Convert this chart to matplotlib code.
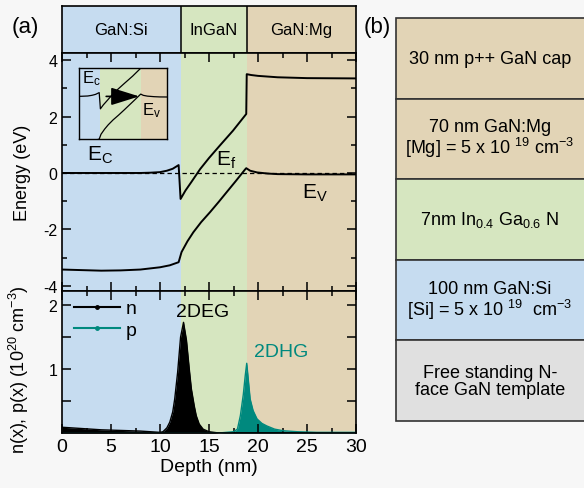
import matplotlib
matplotlib.use('Agg')
import matplotlib.pyplot as plt
from matplotlib.lines import Line2D
from matplotlib.patches import Rectangle

plt.rcParams['font.family'] = ['Liberation Sans', 'DejaVu Sans']
plt.rcParams['mathtext.default'] = 'regular'
plt.rcParams['axes.unicode_minus'] = False

# layer regions (nm)
layer_names = ['GaN:Si', 'InGaN', 'GaN:Mg']
layer_edges = [0, 12.1, 18.85, 30]
layer_colors = ['#c6dcf0', '#d6e6c0', '#e2d4b6']

# band edges
depth_ec = [0, 4, 8, 9, 10, 10.7, 11.3, 11.9, 12.1, 12.6, 13.2, 14.1, 15.0, 16.1,
            17.45, 18.8, 18.85, 19.3, 20, 22, 25, 30]
ec = [0.0, 0.0, 0.0, 0.01, 0.03, 0.08, 0.15, 0.28, -0.92, -0.62, -0.32, 0.14, 0.53,
      0.97, 1.5, 2.09, 3.5, 3.47, 3.44, 3.39, 3.36, 3.35]
depth_ev = [0, 2, 4, 6, 8, 10, 11, 11.9, 12.2, 12.8, 13.4, 14.2, 15.1, 16.0, 16.8,
            17.7, 18.67, 18.8, 19.2, 19.9, 21, 22, 25, 30]
ev = [-3.42, -3.44, -3.46, -3.45, -3.42, -3.34, -3.27, -3.16, -2.8, -2.42, -2.1, -1.74,
      -1.39, -1.02, -0.68, -0.3, 0.12, 0.17, 0.08, 0.02, -0.02, -0.04, -0.05, -0.05]

# carrier densities (1e20 cm^-3)
depth_n = [0, 2, 4, 6, 8, 9, 10, 10.3, 10.7, 11.0, 11.3, 11.5, 11.8, 12.1, 12.4, 12.7,
           13.0, 13.2, 13.5, 13.7, 14.0, 14.4, 15.0, 16, 30]
n = [0.09, 0.07, 0.05, 0.04, 0.03, 0.02, 0.01, 0.02, 0.08, 0.17, 0.33, 0.53, 0.95, 1.5,
     1.73, 1.45, 0.98, 0.69, 0.42, 0.27, 0.14, 0.06, 0.02, 0.0, 0.0]
depth_p = [0, 16, 17.5, 17.9, 18.2, 18.5, 18.7, 18.85, 19.0, 19.2, 19.5, 19.9, 20.4,
           20.9, 21.7, 22.6, 24, 26, 30]
p = [0, 0, 0.02, 0.06, 0.27, 0.6, 0.9, 1.09, 0.85, 0.53, 0.35, 0.22, 0.15, 0.11, 0.06,
     0.035, 0.02, 0.01, 0.01]

# panel (b) layer stack, top to bottom
stack_text = ['30 nm p++ GaN cap',
              '70 nm GaN:Mg\n[Mg] = 5 x 10 $^{19}$ cm$^{-3}$',
              '7nm In$_{0.4}$ Ga$_{0.6}$ N',
              '100 nm GaN:Si\n[Si] = 5 x 10 $^{19}$  cm$^{-3}$',
              'Free standing N-\nface GaN template']
stack_colors = ['#e2d4b6', '#e2d4b6', '#d6e6c0', '#c6dcf0', '#e0e0e0']

teal = '#00897e'
W, H = 584, 489
fig = plt.figure(figsize=(W / 100, H / 100), dpi=100, facecolor='#f7f7f7')

L, Wd = 62 / W, 294 / W
ax_top = fig.add_axes([L, (H - 54) / H, Wd, 47 / H])
ax_e = fig.add_axes([L, (H - 292) / H, Wd, 238 / H])
ax_n = fig.add_axes([L, (H - 434) / H, Wd, 142 / H])


def shade(ax):
    for i in range(3):
        ax.axvspan(layer_edges[i], layer_edges[i + 1], color=layer_colors[i], lw=0, zorder=0)
    ax.set_xlim(0, 30)


def style(ax):
    ax.tick_params(which='both', direction='in', top=True, right=True, width=1.1,
                   labelsize=11.5)
    ax.tick_params(which='major', length=6.5)
    ax.tick_params(which='minor', length=3.6)
    for s in ax.spines.values():
        s.set_linewidth(1.2)


# strip with layer names
shade(ax_top)
for i in range(3):
    ax_top.text((layer_edges[i] + layer_edges[i + 1]) / 2, 0.5, layer_names[i],
                ha='center', va='center', fontsize=12)
    if i > 0:
        ax_top.axvline(layer_edges[i], color='k', lw=1.1)
ax_top.set_ylim(0, 1)
ax_top.set_xticks([])
ax_top.set_yticks([])
for s in ax_top.spines.values():
    s.set_linewidth(1.2)

# energy bands
shade(ax_e)
ax_e.plot(depth_ec, ec, color='k', lw=1.4)
ax_e.plot(depth_ev, ev, color='k', lw=1.4)
ax_e.axhline(0, color='k', lw=0.9, ls=(0, (3.5, 2.5)))
ax_e.set_ylim(-4.18, 4.25)
ax_e.set_yticks([-4, -2, 0, 2, 4])
ax_e.set_yticks([-3, -1, 1, 3], minor=True)
ax_e.set_xticks(range(0, 31, 5))
ax_e.set_xticks([2.5 + 5 * i for i in range(6)], minor=True)
ax_e.tick_params(labelbottom=False)
style(ax_e)
ax_e.set_ylabel('Energy (eV)', fontsize=13)
ax_e.yaxis.set_label_coords(-0.105, 0.5)
ax_e.text(3.9, 0.67, 'E$_C$', fontsize=15, ha='center', va='center')
ax_e.text(16.7, 0.5, 'E$_f$', fontsize=15, ha='center', va='center')
ax_e.text(25.8, -0.7, 'E$_V$', fontsize=15, ha='center', va='center')

# inset
ax_in = fig.add_axes([79.3 / W, (H - 140) / H, 88 / W, 71 / H])
for i in range(3):
    ax_in.axvspan(layer_edges[i], layer_edges[i + 1], color=layer_colors[i], lw=0, zorder=0)
ax_in.plot(depth_ec, ec, color='k', lw=0.9)
ax_in.plot(depth_ev, ev, color='k', lw=0.9)
ax_in.set_xlim(8.6, 23.2)
ax_in.set_ylim(-3.15, 2.1)
ax_in.set_xticks([])
ax_in.set_yticks([])
for s in ax_in.spines.values():
    s.set_linewidth(1.0)
ax_in.annotate('', xy=(19.0, 0), xytext=(12.6, 0),
               arrowprops=dict(arrowstyle='-|>,head_length=0.8,head_width=0.25',
                               mutation_scale=22, color='k', lw=1.2))
ax_in.text(9.0, 1.35, 'E$_c$', fontsize=12, ha='left', va='center')
ax_in.text(20.6, -1.0, 'E$_v$', fontsize=12, ha='center', va='center')

# carrier densities
shade(ax_n)
ax_n.plot(depth_n, n, color='k', lw=1.0)
ax_n.fill_between(depth_n, n, color='k', lw=0)
ax_n.plot(depth_p, p, color=teal, lw=1.0)
ax_n.fill_between(depth_p, p, color=teal, lw=0)
ax_n.set_ylim(0, 2.22)
ax_n.set_yticks([0.5, 1, 1.5, 2])
ax_n.set_yticklabels(['', '1', '', '2'])
ax_n.set_xticks(range(0, 31, 5))
ax_n.set_xticks([2.5 + 5 * i for i in range(6)], minor=True)
style(ax_n)
ax_n.tick_params(axis='x', labelsize=14)
ax_n.set_xlabel('Depth (nm)', fontsize=14, labelpad=2)
ax_n.set_ylabel('n(x), p(x) (10$^{20}$ cm$^{-3}$)', fontsize=13)
ax_n.yaxis.set_label_coords(-0.105, 0.45)
handles = [Line2D([], [], color='k', lw=1.5, marker='o', ms=2.5),
           Line2D([], [], color=teal, lw=1.5, marker='o', ms=2.5)]
ax_n.legend(handles, ['n', 'p'], loc='upper left', frameon=False, fontsize=14,
            handlelength=2.4, handletextpad=0.3, labelspacing=0.2,
            borderaxespad=0.2, bbox_to_anchor=(0.0, 1.02))
ax_n.text(14.4, 1.9, '2DEG', fontsize=14, ha='center', va='center')
ax_n.text(22.4, 1.28, '2DHG', fontsize=14, ha='center', va='center', color=teal)

fig.text(12 / W, 1 - 28 / H, '(a)', fontsize=16, ha='left', va='center')
fig.text(364 / W, 1 - 28 / H, '(b)', fontsize=16, ha='left', va='center')

# panel (b) stack
ax_b = fig.add_axes([396 / W, (H - 422) / H, 210 / W, 403 / H])
ax_b.set_xlim(0, 1)
ax_b.set_ylim(0, len(stack_text))
for i, (txt, col) in enumerate(zip(stack_text, stack_colors)):
    y0 = len(stack_text) - 1 - i
    ax_b.add_patch(Rectangle((0, y0), 1.2, 1, facecolor=col, edgecolor='#333333',
                             lw=1.2, clip_on=False))
    ax_b.text(94 / 210, y0 + 0.5, txt, ha='center', va='center', fontsize=13,
              linespacing=1.0)
ax_b.axis('off')

fig.savefig('out.png', dpi=100, facecolor=fig.get_facecolor())
